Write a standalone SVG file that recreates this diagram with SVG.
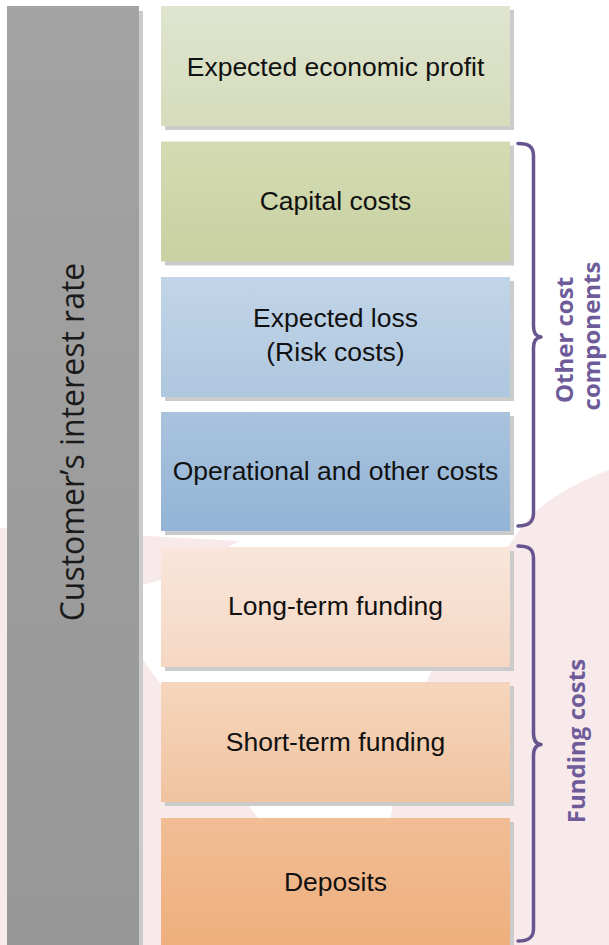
<svg xmlns="http://www.w3.org/2000/svg" width="609" height="945" viewBox="0 0 609 945">
  <defs>
    <linearGradient id="gBar" x1="0" y1="0" x2="0" y2="1"><stop offset="0" stop-color="#a3a3a3"/><stop offset="1" stop-color="#979797"/></linearGradient>
    <linearGradient id="g1" x1="0" y1="0" x2="0" y2="1"><stop offset="0" stop-color="#dfe5cf"/><stop offset="1" stop-color="#d5dcbb"/></linearGradient>
    <linearGradient id="g2" x1="0" y1="0" x2="0" y2="1"><stop offset="0" stop-color="#d4dbb3"/><stop offset="1" stop-color="#c8d1a1"/></linearGradient>
    <linearGradient id="g3" x1="0" y1="0" x2="0" y2="1"><stop offset="0" stop-color="#c2d5e8"/><stop offset="1" stop-color="#aec7df"/></linearGradient>
    <linearGradient id="g4" x1="0" y1="0" x2="0" y2="1"><stop offset="0" stop-color="#a9c3dd"/><stop offset="1" stop-color="#93b4d6"/></linearGradient>
    <linearGradient id="g5" x1="0" y1="0" x2="0" y2="1"><stop offset="0" stop-color="#f9e6db"/><stop offset="1" stop-color="#f5d7c3"/></linearGradient>
    <linearGradient id="g6" x1="0" y1="0" x2="0" y2="1"><stop offset="0" stop-color="#f5d6bd"/><stop offset="1" stop-color="#f0c39f"/></linearGradient>
    <linearGradient id="g7" x1="0" y1="0" x2="0" y2="1"><stop offset="0" stop-color="#f1bd95"/><stop offset="1" stop-color="#eeaf7d"/></linearGradient>
  </defs>
  <style>
    .shadow { fill: #cbcbcb; }
    .lbl { font-family: "Liberation Sans", Arial, sans-serif; font-size: 26.5px; fill: #111; text-anchor: middle; }
    .side { font-family: "Open Sans", "Noto Sans", sans-serif; font-size: 32px; fill: #1a1a1a; text-anchor: middle; }
    .brace { fill: none; stroke: #66558f; stroke-width: 3.5; stroke-linecap: round; stroke-linejoin: round; }
    .blbl { font-family: "Open Sans", "Noto Sans", sans-serif; font-weight: bold; font-size: 24px; fill: #6e5c9a; text-anchor: middle; }
    .wm { fill: #f8e9eb; }
  </style>
  <rect width="609" height="945" fill="#ffffff"/>
  <g id="watermark">
    <path class="wm" d="M0,528 L240,541 L160,580 L0,625 Z"/>
    <path class="wm" d="M0,600 L143,660 L252,810 L350,945 L0,945 Z"/>
    <path class="wm" d="M609,470 C570,485 535,505 516,535 C480,590 448,630 431,672 C410,720 398,770 392,810 C385,860 370,905 358,945 L609,945 Z"/>
  </g>
  <g id="rate-bar">
    <rect class="shadow" x="11" y="11" width="132" height="934"/>
    <rect x="7" y="6" width="132" height="939" fill="url(#gBar)"/>
    <text class="side" transform="translate(84,442) rotate(-90)">Customer’s interest rate</text>
  </g>
  <g id="profit">
    <rect class="shadow" x="165" y="10" width="349" height="120"/>
    <rect x="161" y="6" width="349" height="120" fill="url(#g1)"/>
    <text class="lbl" x="335.5" y="76">Expected economic profit</text>
  </g>
  <g id="capital">
    <rect class="shadow" x="165" y="145.5" width="349" height="120"/>
    <rect x="161" y="141.5" width="349" height="120" fill="url(#g2)"/>
    <text class="lbl" x="335.5" y="210">Capital costs</text>
  </g>
  <g id="loss">
    <rect class="shadow" x="165" y="281" width="349" height="120"/>
    <rect x="161" y="277" width="349" height="120" fill="url(#g3)"/>
    <text class="lbl" x="335.5" y="327">Expected loss</text>
    <text class="lbl" x="335.5" y="361">(Risk costs)</text>
  </g>
  <g id="operational">
    <rect class="shadow" x="165" y="416" width="349" height="119"/>
    <rect x="161" y="412" width="349" height="119" fill="url(#g4)"/>
    <text class="lbl" x="335.5" y="480">Operational and other costs</text>
  </g>
  <g id="long-term">
    <rect class="shadow" x="165" y="551" width="349" height="120"/>
    <rect x="161" y="547" width="349" height="120" fill="url(#g5)"/>
    <text class="lbl" x="335.5" y="615">Long-term funding</text>
  </g>
  <g id="short-term">
    <rect class="shadow" x="165" y="686" width="349" height="120"/>
    <rect x="161" y="682" width="349" height="120" fill="url(#g6)"/>
    <text class="lbl" x="335.5" y="751">Short-term funding</text>
  </g>
  <g id="deposits">
    <rect class="shadow" x="165" y="822" width="349" height="130"/>
    <rect x="161" y="818" width="349" height="130" fill="url(#g7)"/>
    <text class="lbl" x="335.5" y="891">Deposits</text>
  </g>
  <g id="connectors">
    <path class="brace" d="M518,143.5 C528,143.5 533.5,146 533.5,156 V326 C533.5,333 536,336.5 541,337 C536,337.5 533.5,341 533.5,348 V513 C533.5,523 528,526 518,526"/>
    <path class="brace" d="M518,546 C528,546 533.5,548.5 533.5,558 V733 C533.5,740 536,744 541,744.5 C536,745 533.5,749 533.5,756 V929 C533.5,938 528,941 518,941"/>
  </g>
  <g id="other-cost-label">
    <text class="blbl" transform="translate(573,340) rotate(-90)">Other cost</text>
    <text class="blbl" transform="translate(600,336) rotate(-90)">components</text>
  </g>
  <g id="funding-label">
    <text class="blbl" transform="translate(585,741) rotate(-90)">Funding costs</text>
  </g>
</svg>
